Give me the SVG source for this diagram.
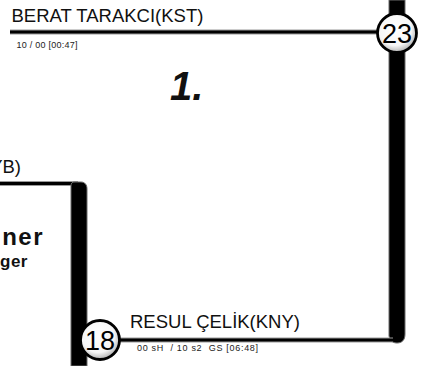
<svg xmlns="http://www.w3.org/2000/svg" width="422" height="366" viewBox="0 0 422 366">
  <defs>
    <radialGradient id="ballGrad" cx="0.45" cy="0.4" r="0.6">
      <stop offset="0" stop-color="#ffffff"/>
      <stop offset="0.7" stop-color="#f6f6f6"/>
      <stop offset="1" stop-color="#b0b0b0"/>
    </radialGradient>
    <style>
      .name { font-family: "Liberation Sans", Arial, sans-serif; font-size: 18.5px; fill: #111; }
      .info { font-family: "Liberation Sans", Arial, sans-serif; font-size: 9px; fill: #222; white-space: pre; }
      .num { font-family: "Liberation Sans", Arial, sans-serif; font-size: 27px; fill: #000; text-anchor: middle; }
      .ball { fill: url(#ballGrad); stroke: #000; stroke-width: 2.8; }
      .thin { stroke: #000; stroke-width: 3; fill: none; }
      .thinshadow { stroke: #9a9a9a; stroke-width: 5; fill: none; }
      .thick { fill: #000; stroke: #6a6a6a; stroke-width: 1; }
      .bold { font-family: "Liberation Sans", Arial, sans-serif; font-weight: bold; fill: #111; }
    </style>
  </defs>
  <rect width="422" height="366" fill="#fff"/>

  <g id="connectors">
    <line class="thinshadow" x1="10" y1="32" x2="380" y2="32"/>
    <line class="thin" x1="10" y1="32" x2="380" y2="32"/>
    <path class="thick" d="M389,0 H405 V334 C405,340 402,343 397,343 C392,343 390,340 389,336 Z"/>
    <line class="thinshadow" x1="115" y1="340" x2="393" y2="340"/>
    <line class="thin" x1="115" y1="340" x2="393" y2="340"/>
    <line class="thinshadow" x1="0" y1="183.5" x2="78" y2="183.5"/>
    <line class="thin" x1="0" y1="183.5" x2="78" y2="183.5"/>
    <path class="thick" d="M71,366 V186 C71,183 72,182 75,182 H81 C85,182 87,185 87,189 V366 Z"/>
  </g>

  <g id="node-berat">
    <text class="name" x="11.5" y="22" font-size="19">BERAT TARAKCI(KST)</text>
    <text class="info" x="16.5" y="47.5" letter-spacing="0.25">10 / 00 [00:47]</text>
    <text class="bold" x="170" y="100" font-size="40" font-style="italic">1.</text>
  </g>

  <g id="node-23">
    <circle class="ball" cx="397" cy="33" r="19.5"/>
    <text class="num" x="397" y="42.5">23</text>
  </g>

  <g id="node-resul">
    <text class="name" x="130" y="327.5">RESUL ÇELİK(KNY)</text>
    <text class="info" x="137" y="351" letter-spacing="0.7">00 sH  / 10 s2  GS [06:48]</text>
  </g>

  <g id="node-18">
    <circle class="ball" cx="100" cy="340" r="19.5"/>
    <text class="num" x="100" y="349.5">18</text>
  </g>

  <g id="node-left">
    <text class="name" x="21" y="173" text-anchor="end">YB)</text>
    <text class="bold" x="44" y="245" font-size="24" letter-spacing="1.5" text-anchor="end">ner</text>
    <text class="bold" x="28" y="267" font-size="17" letter-spacing="0.5" text-anchor="end">ger</text>
  </g>
</svg>
